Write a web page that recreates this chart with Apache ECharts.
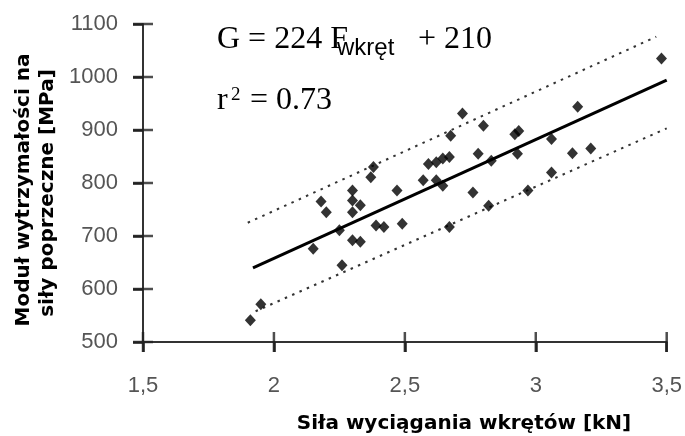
<!DOCTYPE html>
<html>
<head>
<meta charset="utf-8">
<script src="https://cdn.jsdelivr.net/npm/echarts@6/dist/echarts.min.js"></script>
<style>html,body{margin:0;padding:0;background:#fff;}#c{width:685px;height:436px;}</style>
</head>
<body>
<div id="c"></div>
<script>
// Measured points: screw withdrawal force [kN] and shear modulus [MPa]
var forceKN = [1.91,1.95,2.15,2.26,2.18,2.20,2.25,2.30,2.30,2.33,2.30,2.30,2.33,2.39,2.42,2.38,2.37,2.47,2.49,2.57,2.59,2.62,2.645,2.67,2.62,2.645,2.675,2.67,2.72,2.76,2.78,2.80,2.83,2.82,2.92,2.935,2.93,2.97,3.06,3.06,3.14,3.16,3.21,3.48];
var modulusMPa = [541,571,676,645,765,745,711,786,767,758,745,692,689,720,717,830,811,786,723,805,836,839,846,849,805,795,889,717,931,782,855,908,842,757,892,898,855,786,883,820,856,944,865,1035];
// Regression line and prediction band end points
var fitX = [1.92, 3.50];
var fitY = [640, 994];
var upperX = [1.90, 3.46];
var upperY = [725, 1076];
var lowerX = [1.93, 3.50];
var lowerY = [558, 903];
// Axis ticks
var xTicks = [1.5, 2, 2.5, 3, 3.5];
var yTicks = [500, 600, 700, 800, 900, 1000, 1100];

function pairs(xs, ys){ return xs.map(function(x,i){ return [x, ys[i]]; }); }

var chart = echarts.init(document.getElementById('c'), null, {renderer:'canvas'});
var tickFont = {fontFamily:'Liberation Sans', fontSize:22, color:'#555'};
var axisLineStyle = {color:'#333', width:2};
var tickLine = {color:'#222', width:2.5};
var X_MIN = xTicks[0], X_MAX = xTicks[xTicks.length-1];
var Y_MIN = yTicks[0], Y_MAX = yTicks[yTicks.length-1];

var option = {
  animation:false,
  backgroundColor:'#fff',
  grid:{left:143, right:14, top:24, bottom:94, containLabel:false},
  xAxis:{
    type:'value', min:X_MIN, max:X_MAX, interval:0.5, position:'bottom',
    axisLine:{show:true, onZero:false, lineStyle:axisLineStyle},
    axisTick:{show:true, length:10, lineStyle:tickLine},
    splitLine:{show:false},
    axisLabel:Object.assign({margin:33, formatter:function(v){ return String(v).replace('.', ','); }}, tickFont)
  },
  yAxis:{
    type:'value', min:Y_MIN, max:Y_MAX, interval:100, position:'left',
    axisLine:{show:true, onZero:false, lineStyle:axisLineStyle},
    axisTick:{show:true, length:10, lineStyle:tickLine},
    splitLine:{show:false},
    axisLabel:Object.assign({margin:25, formatter:function(v){ return String(v); }}, tickFont)
  },
  series:[
    {type:'line', data:pairs(upperX, upperY), symbol:'none',
     lineStyle:{color:'#333', width:2, type:[2.5,5.5]}, z:2},
    {type:'line', data:pairs(lowerX, lowerY), symbol:'none',
     lineStyle:{color:'#333', width:2, type:[2.5,5.5]}, z:2},
    {type:'line', data:pairs(fitX, fitY), symbol:'none',
     lineStyle:{color:'#000', width:3}, z:3},
    {type:'scatter', data:pairs(forceKN, modulusMPa), symbol:'diamond',
     symbolSize:[11,12], itemStyle:{color:'#000'}, z:4},
    // inner halves of the crossing tick marks, placed through the axes' scales
    {type:'scatter', clip:false, z:6, symbol:'rect', symbolSize:[2.5,20], itemStyle:{color:'#222'},
     data: xTicks.map(function(v){ return [v, Y_MIN]; })},
    {type:'scatter', clip:false, z:6, symbol:'rect', symbolSize:[20,2.5], itemStyle:{color:'#222'},
     data: yTicks.map(function(v){ return [X_MIN, v]; })}
  ],
  graphic:[
    {type:'text', x:217, y:40, style:{text:'G = 224 F', font:'32px "Liberation Serif"', fill:'#000', textVerticalAlign:'middle'}},
    {type:'text', x:337, y:48, style:{text:'wkręt', font:'24px "Liberation Sans"', fill:'#000', textVerticalAlign:'middle'}},
    {type:'text', x:418, y:40, style:{text:'+ 210', font:'32px "Liberation Serif"', fill:'#000', textVerticalAlign:'middle'}},
    {type:'text', x:217, y:101, style:{text:'r', font:'32px "Liberation Serif"', fill:'#000', textVerticalAlign:'middle'}},
    {type:'text', x:231, y:95, style:{text:'2', font:'19px "Liberation Serif"', fill:'#000', textVerticalAlign:'middle'}},
    {type:'text', x:250, y:101, style:{text:'= 0.73', font:'32px "Liberation Serif"', fill:'#000', textVerticalAlign:'middle'}},
    {type:'text', x:464, y:424, style:{text:'Siła wyciągania wkrętów [kN]', font:'bold 20px "DejaVu Sans"', fill:'#000', textAlign:'center', textVerticalAlign:'middle'}},
    {type:'text', x:24, y:190, rotation:Math.PI/2, style:{text:'Moduł wytrzymałości na', font:'bold 20px "DejaVu Sans"', fill:'#000', textAlign:'center', textVerticalAlign:'middle'}},
    {type:'text', x:48, y:193, rotation:Math.PI/2, style:{text:'siły poprzeczne [MPa]', font:'bold 20px "DejaVu Sans"', fill:'#000', textAlign:'center', textVerticalAlign:'middle'}}
  ]
};
chart.setOption(option);
</script>
</body>
</html>
